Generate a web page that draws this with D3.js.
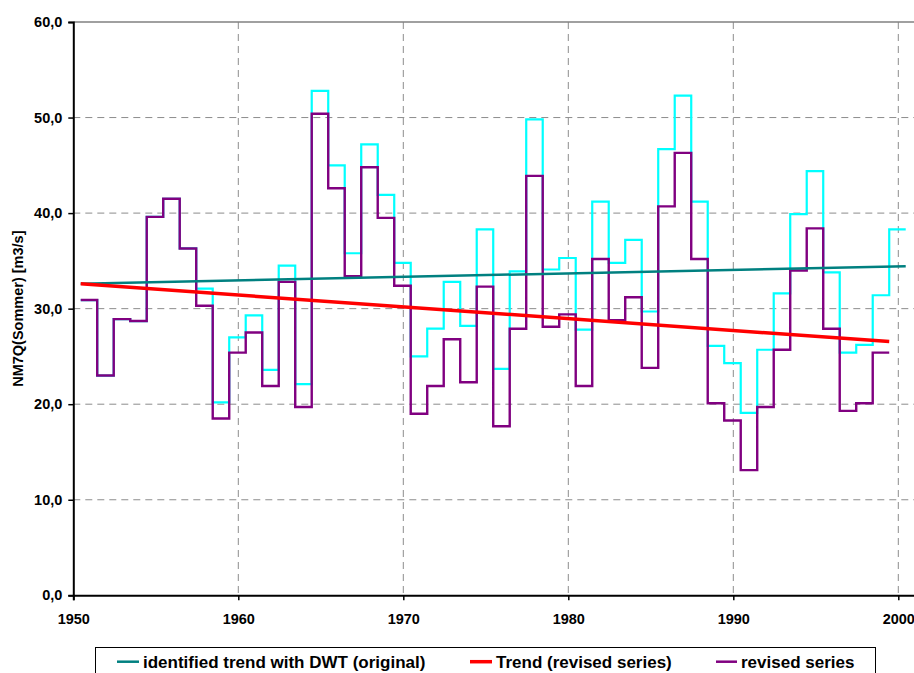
<!DOCTYPE html>
<html>
<head>
<meta charset="utf-8">
<script src="https://cdn.jsdelivr.net/npm/d3@7"></script>
<style>
  html, body { margin: 0; padding: 0; background: #fff; }
  svg { display: block; }
  text { font-family: "Liberation Sans", Arial, sans-serif; font-weight: bold; fill: #000; }
</style>
</head>
<body>
<svg id="chart" width="914" height="673"></svg>
<script>
// ---------- data ----------
const years = [1951,1952,1953,1954,1955,1956,1957,1958,1959,1960,
               1961,1962,1963,1964,1965,1966,1967,1968,1969,1970,
               1971,1972,1973,1974,1975,1976,1977,1978,1979,1980,
               1981,1982,1983,1984,1985,1986,1987,1988,1989,1990,
               1991,1992,1993,1994,1995,1996,1997,1998,1999,2000];
// original series (cyan), 1951-2000
const originalSeries = [30.9,23.0,28.9,28.7,39.6,41.5,36.3,32.1,20.2,27.0,
                        29.3,23.6,34.5,22.1,52.8,45.0,35.8,47.2,41.9,34.8,
                        25.0,27.9,32.8,28.2,38.3,23.7,33.9,49.8,34.1,35.3,
                        27.8,41.2,34.8,37.2,29.7,46.7,52.3,41.2,26.1,24.3,
                        19.1,25.7,31.6,39.9,44.4,33.8,25.4,26.2,31.4,38.3];
// revised series (purple), 1951-1999
const revisedSeries = [30.9,23.0,28.9,28.7,39.6,41.5,36.3,30.3,18.5,25.4,
                       27.5,21.9,32.8,19.7,50.4,42.6,33.4,44.8,39.5,32.4,
                       19.0,21.9,26.8,22.3,32.3,17.7,27.9,43.9,28.1,29.4,
                       21.9,35.2,28.8,31.2,23.8,40.7,46.3,35.2,20.1,18.3,
                       13.1,19.7,25.7,34.0,38.4,27.9,19.3,20.1,25.4];
// linear trends (start / end)
const trendDWTYears = [1950.45, 2000.45];
const trendDWTValues = [32.6, 34.45];
const trendRevYears = [1950.45, 1999.45];
const trendRevValues = [32.6, 26.55];

const xTicks = [1950, 1960, 1970, 1980, 1990, 2000];
const yTicks = [0, 10, 20, 30, 40, 50, 60];
const legendLabels = ["identified trend with DWT (original)", "Trend (revised series)", "revised series"];

// ---------- layout ----------
const svg = d3.select("#chart");
const pLeft = 73.3, pRight = 914.8, pTop = 22, pBottom = 595.3;
const x = d3.scaleLinear().domain([1950, 2001]).range([pLeft, pRight]);
const y = d3.scaleLinear().domain([0, 60]).range([pBottom, pTop]);
const stepBefore = 0.55, stepAfter = 0.45;

// grid
const grid = svg.append("g");
grid.selectAll("line.h").data(yTicks.filter(d => d > 0 && d < 60)).enter().append("line")
  .attr("x1", pLeft).attr("x2", pRight)
  .attr("y1", d => y(d)).attr("y2", d => y(d))
  .attr("stroke", "#8c8c8c").attr("stroke-width", 1).attr("stroke-dasharray", "7,5");
grid.selectAll("line.v").data(xTicks.filter(d => d > 1950)).enter().append("line")
  .attr("x1", d => x(d)).attr("x2", d => x(d))
  .attr("y1", pTop).attr("y2", pBottom)
  .attr("stroke", "#8c8c8c").attr("stroke-width", 1).attr("stroke-dasharray", "7,5");
// top border
svg.append("line").attr("x1", pLeft).attr("x2", pRight).attr("y1", y(60)).attr("y2", y(60))
  .attr("stroke", "#808080").attr("stroke-width", 1.5);

// step series
function stepPoints(vals) {
  const pts = [];
  vals.forEach((v, i) => {
    pts.push([years[i] - stepBefore, v]);
    pts.push([years[i] + stepAfter, v]);
  });
  return pts;
}
const line = d3.line().x(d => x(d[0])).y(d => y(d[1]));

svg.append("path").datum(stepPoints(originalSeries))
  .attr("d", line).attr("fill", "none").attr("stroke", "#00FFFF").attr("stroke-width", 2.2)
  .attr("stroke-linejoin", "miter");
svg.append("path").datum(stepPoints(revisedSeries))
  .attr("d", line).attr("fill", "none").attr("stroke", "#800080").attr("stroke-width", 2.4)
  .attr("stroke-linejoin", "miter");

// trends
svg.append("path").datum(trendDWTYears.map((t, i) => [t, trendDWTValues[i]]))
  .attr("d", line).attr("fill", "none").attr("stroke", "#008080").attr("stroke-width", 2.5);
svg.append("path").datum(trendRevYears.map((t, i) => [t, trendRevValues[i]]))
  .attr("d", line).attr("fill", "none").attr("stroke", "#FF0000").attr("stroke-width", 3.5);

// axes
const yAxis = d3.axisLeft(y).tickValues(yTicks).tickSize(5).tickPadding(6)
  .tickFormat(d => d3.format(".1f")(d).replace(".", ","));
const gy = svg.append("g").attr("transform", `translate(${pLeft},0)`).call(yAxis);
gy.select(".domain").attr("stroke", "#000").attr("stroke-width", 2);
gy.selectAll(".tick line").attr("stroke", "#000").attr("stroke-width", 1.5);
gy.selectAll(".tick text").style("font-size", "14.5px").style("font-family", "'Liberation Sans', Arial, sans-serif").style("font-weight", "bold");

const xAxis = d3.axisBottom(x).tickValues(xTicks).tickSize(5).tickPadding(13).tickFormat(d3.format("d"));
const gx = svg.append("g").attr("transform", `translate(0,${pBottom})`).call(xAxis);
gx.select(".domain").attr("stroke", "#000").attr("stroke-width", 2);
gx.selectAll(".tick line").attr("stroke", "#000").attr("stroke-width", 1.5);
gx.selectAll(".tick text").style("font-size", "14.5px").style("font-family", "'Liberation Sans', Arial, sans-serif").style("font-weight", "bold");

// y title
svg.append("text").attr("transform", `translate(23,${(pTop + pBottom) / 2}) rotate(-90)`)
  .attr("text-anchor", "middle").style("font-size", "14.5px").text("NM7Q(Sommer) [m3/s]");

// legend
const lg = svg.append("g");
lg.append("rect").attr("x", 95.5).attr("y", 647.5).attr("width", 780).attr("height", 50)
  .attr("fill", "#fff").attr("stroke", "#000").attr("stroke-width", 1);
const legendItems = [
  { x0: 117, x1: 139, tx: 143, color: "#008080", w: 2.5 },
  { x0: 470, x1: 492, tx: 496, color: "#FF0000", w: 3.5 },
  { x0: 716, x1: 737, tx: 741, color: "#800080", w: 2.5 }
];
legendItems.forEach((it, i) => {
  lg.append("line").attr("x1", it.x0).attr("x2", it.x1).attr("y1", 661.7).attr("y2", 661.7)
    .attr("stroke", it.color).attr("stroke-width", it.w);
  lg.append("text").attr("x", it.tx).attr("y", 668).style("font-size", "17px").text(legendLabels[i]);
});
</script>
</body>
</html>
